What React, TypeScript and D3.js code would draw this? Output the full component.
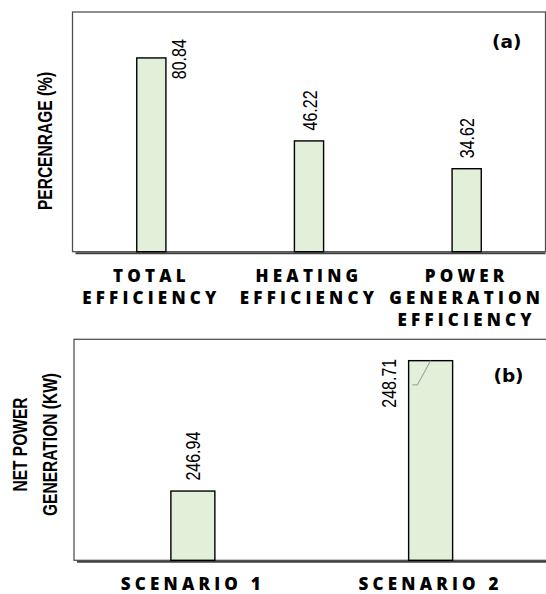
import React from "react";
import * as d3 from "d3";

const width = 546;
const height = 594;

// panel (a) data
const effKeys = ["total", "heating", "power"];
const effLabels = [
  ["TOTAL", "EFFICIENCY"],
  ["HEATING", "EFFICIENCY"],
  ["POWER", "GENERATION", "EFFICIENCY"],
];
const effValues = [80.84, 46.22, 34.62];
const effDomain = [0, 100];

// panel (b) data
const scnKeys = ["s1", "s2"];
const scnLabels = [["SCENARIO 1"], ["SCENARIO 2"]];
const scnValues = [246.94, 248.71];
const scnDomain = [246, 249];

const barFill = "#e2efd9";
const valueFont = "'Liberation Sans', Arial, sans-serif";
const titleFont = "'Liberation Sans', Arial, sans-serif";
const catFont = "'Open Sans', sans-serif";
const valueSize = 19.5;
const narrow = 0.82; // no narrow face installed, squeeze the text instead

type PanelProps = {
  keys: string[];
  labels: string[][];
  values: number[];
  domain: number[];
  left: number;
  right: number;
  top: number;
  bottom: number;
  title: string[];
  titleX: number[];
  titleY: number;
  tag: string;
  tagX: number;
  tagY: number;
  overflow: "right" | "left";
};

const Panel = (p: PanelProps) => {
  const x = d3.scaleBand().domain(p.keys).range([p.left, p.right]);
  const y = d3.scaleLinear().domain(p.domain).range([p.bottom, p.top]);
  const bw = x.bandwidth() * 0.185;
  const fmt = d3.format(".2f");
  const rot = `rotate(-90) scale(${narrow},1)`;

  return (
    <g>
      <rect
        x={p.left}
        y={p.top}
        width={p.right - p.left}
        height={p.bottom - p.top}
        fill="none"
        stroke="#4d4d4d"
        strokeWidth={1.25}
      />
      <line
        x1={p.left + 3}
        x2={p.right}
        y1={p.bottom + 1.5}
        y2={p.bottom + 1.5}
        stroke="#404040"
        strokeWidth={2}
      />
      {p.keys.map((k, i) => {
        const cx = (x(k) as number) + x.bandwidth() / 2;
        const top = y(p.values[i]);
        const txt = fmt(p.values[i]);
        // rough label length to know if it fits above the bar
        const len = ((txt.length - 1) * 0.556 + 0.278) * valueSize * narrow;
        const fits = top - 10.5 - len > p.top;
        let label;
        if (fits) {
          label = (
            <text transform={`translate(${cx + 7.5},${top - 10.5}) ${rot}`}>{txt}</text>
          );
        } else if (p.overflow === "right") {
          label = (
            <text transform={`translate(${cx + bw / 2 + 20.5},${top + 21.3}) ${rot}`}>{txt}</text>
          );
        } else {
          const bl = cx - bw / 2;
          label = (
            <g>
              <path
                d={`M${bl + 3.7},${top + 24.3}H${bl + 8.7}L${cx},${top}`}
                fill="none"
                stroke="#a6a6a6"
                strokeWidth={1.2}
              />
              <text transform={`translate(${bl - 13},${top + 47}) ${rot}`}>{txt}</text>
            </g>
          );
        }
        return (
          <g key={k}>
            <rect
              x={cx - bw / 2}
              y={top}
              width={bw}
              height={p.bottom - top}
              fill={barFill}
              stroke="#000"
              strokeWidth={1.4}
            />
            <g fontFamily={valueFont} fontSize={valueSize} fill="#000">
              {label}
            </g>
            <text
              x={cx}
              y={p.bottom + 30.3}
              textAnchor="middle"
              fontFamily={catFont}
              fontWeight={800}
              fontSize={17}
              letterSpacing={4.2}
              fill="#000"
            >
              {p.labels[i].map((l, j) => (
                <tspan key={j} x={cx} y={p.bottom + 30 + j * 22}>
                  {l}
                </tspan>
              ))}
            </text>
          </g>
        );
      })}
      {p.title.map((t, j) => (
        <text
          key={j}
          transform={`translate(${p.titleX[j]},${p.titleY}) rotate(-90) scale(0.74,1)`}
          textAnchor="middle"
          fontFamily={titleFont}
          fontWeight={700}
          fontSize={21}
          fill="#000"
        >
          {t}
        </text>
      ))}
      <text
        x={p.tagX}
        y={p.tagY}
        textAnchor="middle"
        fontFamily="'DejaVu Sans', sans-serif"
        fontWeight={700}
        fontSize={18.5}
        fill="#000"
      >
        {p.tag}
      </text>
    </g>
  );
};

const App = () => {
  return (
    <svg
      width={width}
      height={height}
      style={{ position: "absolute", left: 0, top: 0, background: "#fff" }}
    >
      <Panel
        keys={effKeys}
        labels={effLabels}
        values={effValues}
        domain={effDomain}
        left={72.5}
        right={545.5}
        top={12}
        bottom={251.7}
        title={["PERCENRAGE (%)"]}
        titleX={[52]}
        titleY={141}
        tag="(a)"
        tagX={506.7}
        tagY={48}
        overflow="right"
      />
      <Panel
        keys={scnKeys}
        labels={scnLabels}
        values={scnValues}
        domain={scnDomain}
        left={74}
        right={549.5}
        top={339.3}
        bottom={560.3}
        title={["NET POWER", "GENERATION (KW)"]}
        titleX={[27, 57]}
        titleY={444.5}
        tag="(b)"
        tagX={508.5}
        tagY={382}
        overflow="left"
      />
    </svg>
  );
};

export default App;
